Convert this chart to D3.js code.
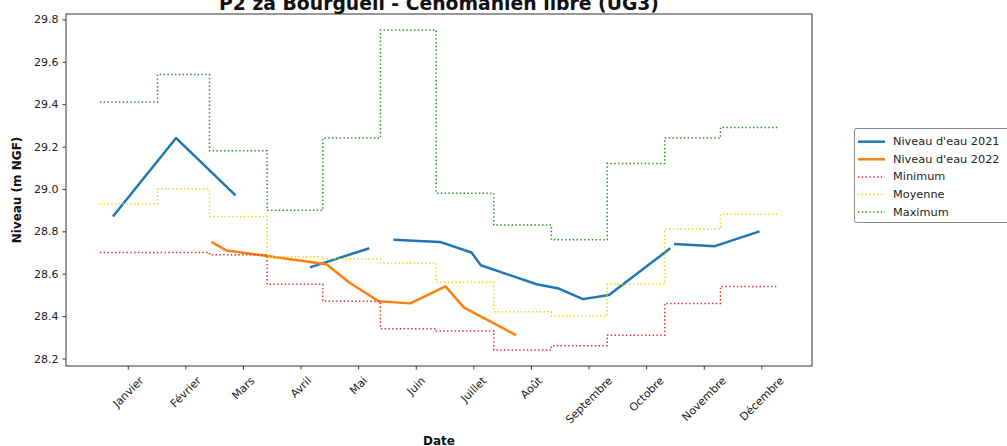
<!DOCTYPE html>
<html><head><meta charset="utf-8">
<script src="https://cdn.jsdelivr.net/npm/d3@7"></script>
<style>body{margin:0;background:#fff} svg{display:block;font-family:"DejaVu Sans",sans-serif}</style>
</head><body><svg id="c" width="1007" height="446"></svg>
<script>
// ---- data ----
const months = ["Janvier","Février","Mars","Avril","Mai","Juin","Juillet","Août","Septembre","Octobre","Novembre","Décembre"];
const tickDays = [15,46,77,108,139,170,201,232,263,294,325,356];
const monthStarts = [0,31,59,90,120,151,181,212,243,273,304,334,365];
const minimum = [28.70,28.70,28.69,28.55,28.47,28.34,28.33,28.24,28.26,28.31,28.46,28.54];
const moyenne = [28.93,29.00,28.87,28.68,28.67,28.65,28.56,28.42,28.40,28.55,28.81,28.88];
const maximum = [29.41,29.54,29.18,28.90,29.24,29.75,28.98,28.83,28.76,29.12,29.24,29.29];
const days2021  = [7,41,73,93,113,145,151,158,183,200,205,235,247,260,274,307,308,309,331,355];
const level2021 = [28.87,29.24,28.97,null,28.63,28.72,null,28.76,28.75,28.70,28.64,28.55,28.53,28.48,28.50,28.72,null,28.74,28.73,28.80];
const days2022  = [60,68,89,122,134,150,167,186,196,224];
const level2022 = [28.75,28.71,28.685,28.645,28.56,28.47,28.46,28.54,28.44,28.31];
const yTicks = [28.2,28.4,28.6,28.8,29.0,29.2,29.4,29.6,29.8];
const title = "P2 za Bourgueil - Cénomanien libre (UG3)";
const seriesNames = ["Niveau d'eau 2021","Niveau d'eau 2022","Minimum","Moyenne","Maximum"];

// ---- layout ----
const L = 66, R = 812, T = 14, B = 366;
const svg = d3.select("#c");

const xMin = monthStarts[0], xMax = monthStarts[monthStarts.length-1];
const xm = (xMax - xMin) * 0.05;
const x = d3.scaleLinear().domain([xMin - xm, xMax + xm]).range([L, R]);
const allY = [].concat(minimum, moyenne, maximum, level2021.filter(v=>v!=null), level2022);
const yLo = d3.min(allY), yHi = d3.max(allY), ym = (yHi - yLo) * 0.05;
const y = d3.scaleLinear().domain([yLo - ym, yHi + ym]).range([B, T]);

const clip = svg.append("clipPath").attr("id","clip").append("rect")
  .attr("x",L).attr("y",T).attr("width",R-L).attr("height",B-T);
const plot = svg.append("g").attr("clip-path","url(#clip)");

const line = d3.line().defined(d => d[1] != null).x(d => x(d[0])).y(d => y(d[1]));
const stepLine = d3.line().curve(d3.curveStepAfter).x(d => x(d[0])).y(d => y(d[1]));

function stepPts(vals){
  const pts = vals.map((v,i) => [monthStarts[i], v]);
  pts.push([monthStarts[vals.length], vals[vals.length-1]]);
  return pts;
}

const colors = {c21:"#1f77b4", c22:"#ff7f0e", min:"#ee2222", moy:"#f2d600", max:"#1f8f1f"};

plot.append("path").datum(days2021.map((d,i)=>[d, level2021[i]]))
  .attr("d", line).attr("fill","none").attr("stroke",colors.c21).attr("stroke-width",2.5)
  .attr("stroke-linejoin","round").attr("stroke-linecap","butt");
plot.append("path").datum(days2022.map((d,i)=>[d, level2022[i]]))
  .attr("d", line).attr("fill","none").attr("stroke",colors.c22).attr("stroke-width",2.5)
  .attr("stroke-linejoin","round").attr("stroke-linecap","butt");

const dots = "1.4,2.4";
[[minimum,colors.min],[moyenne,colors.moy],[maximum,colors.max]].forEach(([vals,c]) => {
  plot.append("path").datum(stepPts(vals)).attr("d", stepLine)
    .attr("fill","none").attr("stroke",c).attr("stroke-width",1.5).attr("stroke-dasharray",dots);
});

// ---- axes ----
const yAxis = svg.append("g").attr("transform",`translate(${L},0)`)
  .call(d3.axisLeft(y).tickValues(yTicks).tickFormat(d3.format(".1f")).tickSize(3.5).tickPadding(4));
const xAxis = svg.append("g").attr("transform",`translate(0,${B})`)
  .call(d3.axisBottom(x).tickValues(tickDays).tickFormat((d,i)=>months[i]).tickSize(3.5));
[yAxis, xAxis].forEach(a => {
  a.select(".domain").remove();
  a.selectAll(".tick line").attr("stroke","#222").attr("stroke-width",0.9);
  a.selectAll("text").attr("font-size",11).attr("fill","#222").attr("font-family","DejaVu Sans");
});
xAxis.selectAll(".tick text").each(function(){
  const t = d3.select(this);
  t.attr("y",null).attr("dy",null);
  const w = this.getComputedTextLength(), h = 11;
  const half = (w + h) * Math.SQRT1_2 / 2;
  t.attr("text-anchor","middle").attr("dominant-baseline","central")
   .attr("transform",`translate(0,${9 + half}) rotate(-45)`);
});

svg.append("rect").attr("x",L).attr("y",T).attr("width",R-L).attr("height",B-T)
  .attr("fill","none").attr("stroke","#333").attr("stroke-width",1);

// ---- labels ----
svg.append("text").attr("x",(L+R)/2).attr("y",9.5).attr("text-anchor","middle")
  .attr("font-size",18.8).attr("font-weight","bold").attr("fill","#111").text(title);
svg.append("text").attr("x",(L+R)/2).attr("y",444.5).attr("text-anchor","middle")
  .attr("font-size",12).attr("font-weight","bold").attr("fill","#111").text("Date");
svg.append("text").attr("transform",`translate(21,${(T+B)/2}) rotate(-90)`).attr("text-anchor","middle")
  .attr("font-size",12).attr("font-weight","bold").attr("fill","#111").text("Niveau (m NGF)");

// ---- legend ----
const lg = svg.append("g");
lg.append("rect").attr("x",854.5).attr("y",128.5).attr("width",170).attr("height",94).attr("rx",2)
  .attr("fill","#fff").attr("stroke","#888").attr("stroke-width",1);
const lgStyles = [
  {c:colors.c21, w:2.5, d:null},
  {c:colors.c22, w:2.5, d:null},
  {c:colors.min, w:1.5, d:dots},
  {c:colors.moy, w:1.5, d:dots},
  {c:colors.max, w:1.5, d:dots}
];
seriesNames.forEach((n,i) => {
  const yy = 141.7 + i * 17.6;
  const ln = lg.append("line").attr("x1",858).attr("x2",885).attr("y1",yy).attr("y2",yy)
    .attr("stroke",lgStyles[i].c).attr("stroke-width",lgStyles[i].w);
  if (lgStyles[i].d) ln.attr("stroke-dasharray",lgStyles[i].d);
  lg.append("text").attr("x",893).attr("y",yy).attr("dominant-baseline","central")
    .attr("font-size",11.3).attr("fill","#222").text(n);
});
</script></body></html>
